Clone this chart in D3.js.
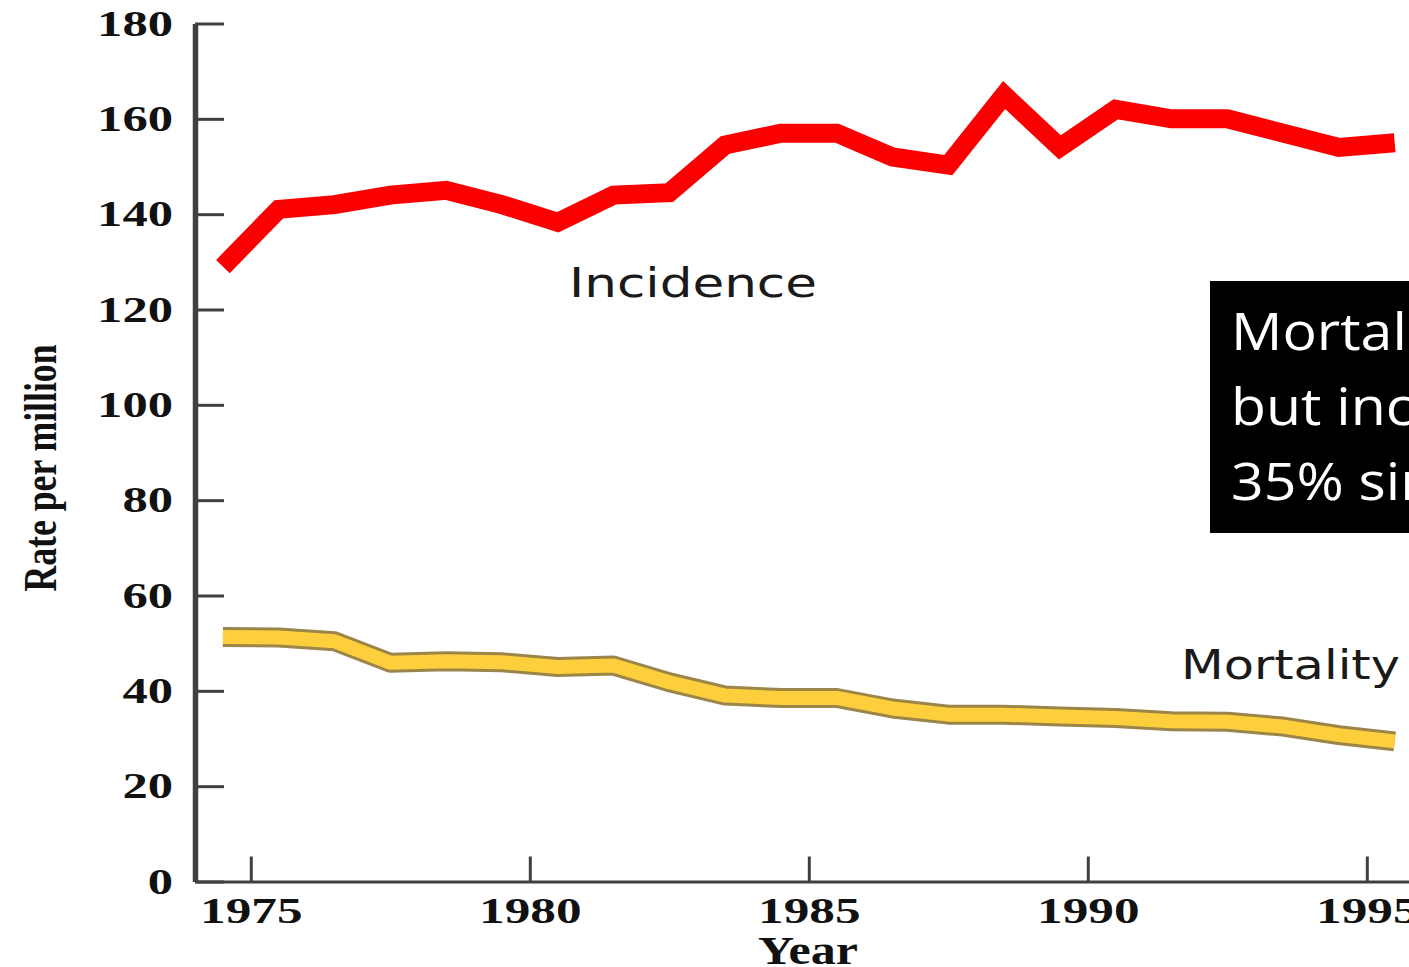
<!DOCTYPE html>
<html>
<head>
<meta charset="utf-8">
<script src="https://cdn.jsdelivr.net/npm/d3@7"></script>
<style>
  body { margin: 0; background: #fff; }
  svg { display: block; }
</style>
</head>
<body>
<div id="main"></div>
<script>
/*********************************************************
 * Data (rate per million)
 *********************************************************/
const years = [1974.5, 1975.5, 1976.5, 1977.5, 1978.5, 1979.5, 1980.5, 1981.5,
  1982.5, 1983.5, 1984.5, 1985.5, 1986.5, 1987.5, 1988.5, 1989.5, 1990.5,
  1991.5, 1992.5, 1993.5, 1994.5, 1995.5];
const incidence = [129, 141, 142, 144, 145, 142, 138.3, 144, 144.5, 154.5, 157,
  157, 152, 150.3, 165, 154, 162, 160, 160, 157, 154, 155];
const mortality = [51.3, 51.2, 50.4, 45.9, 46.2, 46, 45, 45.3, 41.8, 39, 38.5,
  38.5, 36.3, 35, 35, 34.6, 34.3, 33.6, 33.5, 32.5, 30.7, 29.4];
const xTicks = [1975, 1980, 1985, 1990, 1995];
const yTicks = [0, 20, 40, 60, 80, 100, 120, 140, 160, 180];
const noteLines = ['Mortality', 'but incidence', '35% since'];

/*********************************************************
 * Layout
 *********************************************************/
const svgWidth = 1409;
const svgHeight = 967;
const serif = '"Liberation Serif", "Times New Roman", serif';
const sans = '"DejaVu Sans", Verdana, sans-serif';

const svg = d3.select('#main')
  .append('svg')
  .attr('width', svgWidth)
  .attr('height', svgHeight);

const x = d3.scaleLinear()
  .domain([1974, 1996])
  .range([195, 195 + 22 * 55.8]);

const y = d3.scaleLinear()
  .domain([0, 180])
  .range([881.5, 23.5]);

/*********************************************************
 * Axes (ticks point inward)
 *********************************************************/
const yAxis = d3.axisLeft(y)
  .tickValues(yTicks)
  .tickSize(-29)
  .tickSizeOuter(0)
  .tickPadding(22);

const gY = svg.append('g')
  .attr('transform', `translate(${x(1974)},0)`)
  .call(yAxis);
gY.select('.domain').attr('stroke', '#404040').attr('stroke-width', 5.5);
gY.selectAll('.tick line').attr('stroke', '#404040').attr('stroke-width', 3);
gY.selectAll('.tick text')
  .attr('font-family', serif)
  .attr('font-weight', 'bold')
  .attr('font-size', 36)
  .attr('fill', '#111')
  .attr('textLength', d => String(d).length * 25.3)
  .attr('lengthAdjust', 'spacingAndGlyphs');

const xAxis = d3.axisBottom(x)
  .tickValues(xTicks)
  .tickSize(-25)
  .tickSizeOuter(0)
  .tickFormat(d3.format('d'));

const gX = svg.append('g')
  .attr('transform', `translate(0,${y(0)})`)
  .call(xAxis);
gX.select('.domain').attr('stroke', '#404040').attr('stroke-width', 3);
gX.selectAll('.tick line').attr('stroke', '#404040').attr('stroke-width', 3);
gX.selectAll('.tick text')
  .attr('dy', null)
  .attr('y', 41)
  .attr('font-family', serif)
  .attr('font-weight', 'bold')
  .attr('font-size', 36)
  .attr('fill', '#111')
  .attr('textLength', d => String(d).length * 25.6)
  .attr('lengthAdjust', 'spacingAndGlyphs');

// axis titles
svg.append('text')
  .attr('transform', 'translate(56,468) rotate(-90)')
  .attr('text-anchor', 'middle')
  .attr('font-family', serif)
  .attr('font-weight', 'bold')
  .attr('font-size', 46)
  .attr('fill', '#111')
  .attr('textLength', 247)
  .attr('lengthAdjust', 'spacingAndGlyphs')
  .text('Rate per million');

svg.append('text')
  .attr('x', 808)
  .attr('y', 964)
  .attr('text-anchor', 'middle')
  .attr('font-family', serif)
  .attr('font-weight', 'bold')
  .attr('font-size', 39)
  .attr('fill', '#111')
  .attr('textLength', 100)
  .attr('lengthAdjust', 'spacingAndGlyphs')
  .text('Year');

/*********************************************************
 * Lines
 *********************************************************/
const line = d3.line()
  .x(d => x(d[0]))
  .y(d => y(d[1]));

const incData = years.map((yr, i) => [yr, incidence[i]]);
const morData = years.map((yr, i) => [yr, mortality[i]]);

svg.append('path')
  .attr('d', line(incData))
  .attr('fill', 'none')
  .attr('stroke', '#fa0000')
  .attr('stroke-width', 19)
  .attr('stroke-linejoin', 'miter');

// mortality: dark outline under a yellow core
svg.append('path')
  .attr('d', line(morData))
  .attr('fill', 'none')
  .attr('stroke', '#9c8548')
  .attr('stroke-width', 20)
  .attr('stroke-linejoin', 'round');

svg.append('path')
  .attr('d', line(morData))
  .attr('fill', 'none')
  .attr('stroke', '#fdcf3c')
  .attr('stroke-width', 14)
  .attr('stroke-linejoin', 'round');

// series labels
svg.append('text')
  .attr('x', 569)
  .attr('y', 297)
  .attr('font-family', sans)
  .attr('font-size', 41)
  .attr('fill', '#1a1a1a')
  .attr('textLength', 248)
  .attr('lengthAdjust', 'spacingAndGlyphs')
  .text('Incidence');

svg.append('text')
  .attr('x', 1181)
  .attr('y', 679)
  .attr('font-family', sans)
  .attr('font-size', 41)
  .attr('fill', '#1a1a1a')
  .attr('textLength', 219)
  .attr('lengthAdjust', 'spacingAndGlyphs')
  .text('Mortality');

/*********************************************************
 * Callout box (runs off the right edge)
 *********************************************************/
svg.append('rect')
  .attr('x', 1210)
  .attr('y', 281)
  .attr('width', 260)
  .attr('height', 252)
  .attr('fill', '#000');

svg.selectAll('.note')
  .data(noteLines)
  .enter()
  .append('text')
  .attr('class', 'note')
  .attr('transform', (d, i) => `translate(1231,${350 + i * 75}) scale(1.1,1)`)
  .attr('font-family', '"Open Sans", "Noto Sans", sans-serif')
  .attr('font-size', 52)
  .attr('fill', '#fff')
  .text(d => d);
</script>
</body>
</html>
